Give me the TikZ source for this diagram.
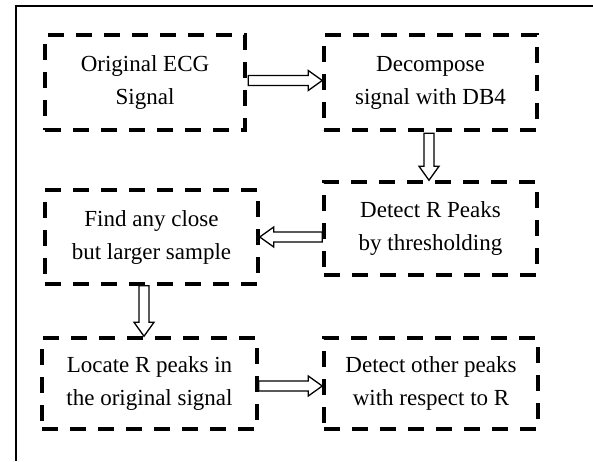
\documentclass[tikz,border=0pt]{standalone}
\usepackage{fontspec}
\setmainfont{Liberation Serif}
\usetikzlibrary{calc}
\tikzset{
  stepbox/.style={draw=black, line width=3.5pt, dash pattern=on 16pt off 12pt,
    rectangle, inner sep=0pt, align=center, font=\fontsize{23}{33}\selectfont},
  hollow/.style={draw=black, line width=1.3pt, line join=miter, fill=white,
    to path={
      ($(\tikztostart)!5pt!90:(\tikztotarget)$)
      -- ($(\tikztotarget)!14pt!(\tikztostart)!5pt!90:(\tikztotarget)$)
      -- ($(\tikztotarget)!14pt!(\tikztostart)!10pt!90:(\tikztotarget)$)
      -- (\tikztotarget)
      -- ($(\tikztotarget)!14pt!(\tikztostart)!10pt!-90:(\tikztotarget)$)
      -- ($(\tikztotarget)!14pt!(\tikztostart)!5pt!-90:(\tikztotarget)$)
      -- ($(\tikztostart)!5pt!-90:(\tikztotarget)$)
      -- cycle}},
  frame/.style={draw=black, line width=2pt}
}
\begin{document}
\begin{tikzpicture}[x=1pt,y=-1pt]
\useasboundingbox (0,0) rectangle (593,461);
\coordinate (ftr) at (593,6);
\coordinate (ftl) at (15.5,6);
\coordinate (fbl) at (15.5,461);
\draw[frame] (ftr) -- (ftl) -- (fbl);

\node[stepbox, minimum width=200pt, minimum height=95pt] (b1) at (145,82.5) {Original ECG\\Signal};
\node[stepbox, minimum width=213pt, minimum height=95pt] (b2) at (430.5,82.5) {Decompose\\signal with DB4};
\node[stepbox, minimum width=213pt, minimum height=93pt] (b3) at (430.5,228.5) {Detect R Peaks\\by thresholding};
\node[stepbox, minimum width=213pt, minimum height=94pt] (b4) at (151.5,237) {Find any close\\but larger sample};
\node[stepbox, minimum width=215pt, minimum height=91pt] (b5) at (149.5,383.5) {Locate R peaks in\\the original signal};
\node[stepbox, minimum width=214pt, minimum height=91pt] (b6) at (431,383.5) {Detect other peaks\\with respect to R};

\draw[hollow] ($(b1.east)+(1.5,-2)$) to ($(b2.west)+(0,-2)$);
\draw[hollow] ($(b2.south)+(-1.5,1.5)$) to ($(b3.north)+(-1.5,0)$);
\draw[hollow] (b4.east -| b3.west) to (b4.east);
\draw[hollow] ($(b4.south)+(-7.5,0)$) to ($(b5.north)+(-5.5,0)$);
\draw[hollow] ($(b5.east)+(0,2.5)$) to ($(b6.west)+(0,2.5)$);
\end{tikzpicture}
\end{document}
